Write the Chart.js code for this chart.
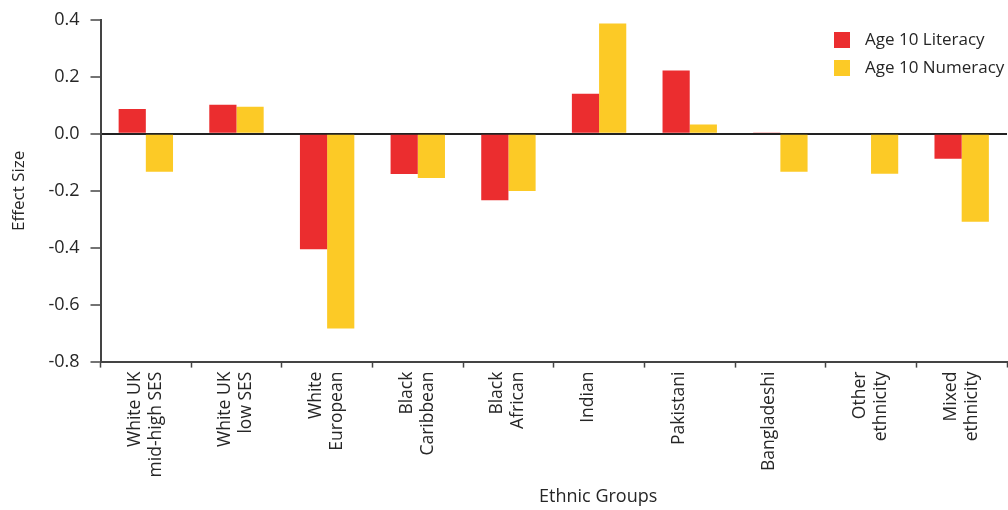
<!DOCTYPE html>
<html>
<head>
<meta charset="utf-8">
<script src="https://cdn.jsdelivr.net/npm/chart.js@4"></script>
<style>
  html, body { margin: 0; padding: 0; background: #fff; }
  #wrap { width: 1008px; height: 510px; }
</style>
</head>
<body>
<div id="wrap"><canvas id="chart"></canvas></div>
<script>
const groups = [
    ['White UK', 'mid-high SES'],
    ['White UK', 'low SES'],
    ['White', 'European'],
    ['Black', 'Caribbean'],
    ['Black', 'African'],
    'Indian',
    'Pakistani',
    'Bangladeshi',
    ['Other', 'ethnicity'],
    ['Mixed', 'ethnicity']
];
const literacy = [0.087, 0.102, -0.405, -0.141, -0.233, 0.141, 0.223, 0.005, 0, -0.087];
const numeracy = [-0.133, 0.095, -0.684, -0.155, -0.201, 0.388, 0.033, -0.133, -0.14, -0.309];
const seriesNames = ['Age 10 Literacy', 'Age 10 Numeracy'];
const yTicks = [-0.8, -0.6, -0.4, -0.2, 0.0, 0.2, 0.4];

const textColor = '#262626';
const axisColor = '#444';
const fontFamily = '"Open Sans", "Noto Sans", sans-serif';

// legend drawn in the top right corner, over the plot like the original
const cornerLegend = {
    id: 'cornerLegend',
    afterDraw(chart) {
        const ctx = chart.ctx;
        const x = 834, y0 = 40, gap = 28, box = 16;
        ctx.save();
        ctx.font = '17px ' + fontFamily;
        ctx.textBaseline = 'middle';
        chart.data.datasets.forEach((ds, i) => {
            const y = y0 + i * gap;
            ctx.fillStyle = ds.backgroundColor;
            ctx.fillRect(x, y - box / 2, box, box);
            ctx.fillStyle = textColor;
            ctx.fillText(ds.label, x + 31, y);
        });
        ctx.restore();
    }
};

const ctx = document.getElementById('chart').getContext('2d');
new Chart(ctx, {
    type: 'bar',
    data: {
        labels: groups,
        datasets: [
            { label: seriesNames[0], data: literacy, backgroundColor: '#EB2D2F' },
            { label: seriesNames[1], data: numeracy, backgroundColor: '#FCCA26' }
        ]
    },
    options: {
        responsive: true,
        maintainAspectRatio: false,
        animation: false,
        layout: { padding: { top: 0, right: 1, left: 9, bottom: 2 } },
        datasets: { bar: { categoryPercentage: 0.6, barPercentage: 1.0 } },
        plugins: {
            legend: { display: false },
            tooltip: { enabled: false }
        },
        scales: {
            x: {
                grid: {
                    offset: true,
                    drawOnChartArea: false,
                    tickLength: 6,
                    tickColor: axisColor,
                    tickWidth: 1.5
                },
                border: { color: axisColor, width: 2 },
                ticks: {
                    minRotation: 90,
                    maxRotation: 90,
                    autoSkip: false,
                    color: textColor,
                    padding: 4,
                    labelOffset: -11,
                    font: { family: fontFamily, size: 17.5 }
                },
                title: {
                    display: true,
                    text: '                   Ethnic Groups',
                    color: textColor,
                    font: { family: fontFamily, size: 18 },
                    padding: { top: 5, bottom: 0 }
                }
            },
            y: {
                min: -0.8,
                max: 0.4,
                afterBuildTicks(axis) {
                    axis.ticks = yTicks.map(v => ({ value: v }));
                },
                afterFit(scale) {
                    scale.paddingTop = 20;
                },
                grid: {
                    color: c => (c.tick && Math.abs(c.tick.value) < 1e-9) ? '#222' : 'rgba(0,0,0,0)',
                    lineWidth: 2,
                    tickColor: axisColor,
                    tickLength: 10,
                    tickWidth: 1.5
                },
                border: { color: axisColor, width: 2 },
                ticks: {
                    color: textColor,
                    padding: 11,
                    font: { family: fontFamily, size: 18 },
                    callback: v => v.toFixed(1)
                },
                title: {
                    display: true,
                    text: 'Effect Size',
                    color: textColor,
                    font: { family: fontFamily, size: 17 },
                    padding: { top: 0, bottom: 8 }
                }
            }
        }
    },
    plugins: [cornerLegend]
});
</script>
</body>
</html>
